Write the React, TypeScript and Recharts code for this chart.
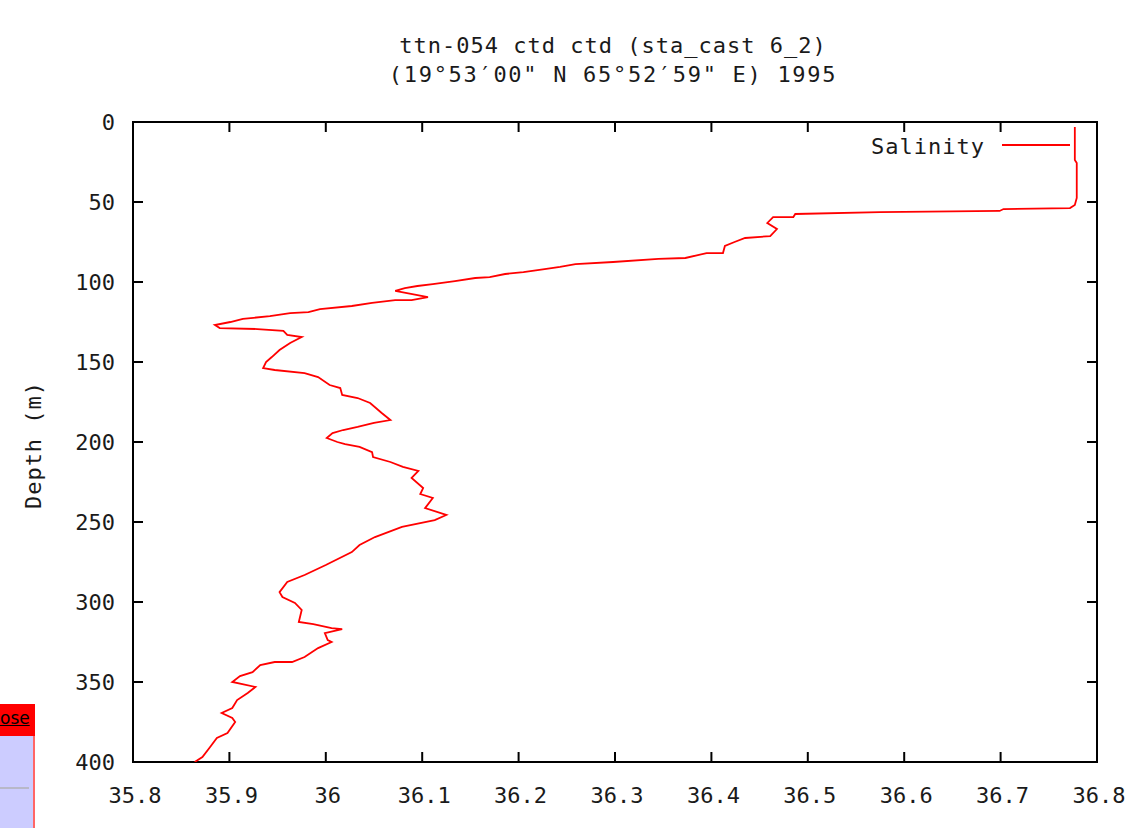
import { Line, LineChart, ReferenceArea, XAxis, YAxis } from 'recharts'

// CTD cast, salinity vs depth
const depth = [
  3.1, 23.8, 25.6, 47.5, 51.9, 53.8, 54.4, 55.6, 56.3, 57.5, 59.4, 59.4, 63.1, 66.9, 71.3, 72.5,
  75, 77.5, 81.9, 81.9, 85, 85.6, 87.5, 88.8, 90.6, 91.9, 93.8, 95, 96.9, 97.5, 99.4, 101.3,
  102.5, 103.8, 105.6, 109.4, 111.3, 111.3, 113.1, 115, 116.9, 118.8, 119.4, 121.3, 123.1, 125,
  126.9, 128.8, 129.4, 130.6, 133.1, 134.4, 138.1, 142.5, 146.9, 150, 153.8, 155, 156.9, 159.4,
  164.4, 166.3, 170.6, 172.5, 175.6, 181.9, 186.3, 188.1, 190.6, 192.5, 194.4, 197.5, 200, 201.3,
  203.1, 206.3, 209.4, 212.5, 215.6, 218.1, 222.5, 228.8, 232.5, 235, 241.3, 245.6, 248.8, 253.1,
  259.4, 264.4, 268.8, 276.9, 283.1, 287.5, 293.8, 296.9, 300.6, 305, 312.5, 313.8, 316.3, 316.9,
  319.4, 323.8, 325, 328.8, 334.4, 337.5, 337.5, 339.4, 343.8, 346.3, 350, 353.1, 356.9, 361.3,
  366.3, 369.4, 372.5, 375, 381.9, 385, 390.6, 396.9, 400,
]
const salinity = [
  36.777, 36.777, 36.779, 36.779, 36.777, 36.772, 36.703, 36.699, 36.575, 36.487, 36.485, 36.464,
  36.458, 36.468, 36.461, 36.435, 36.424, 36.414, 36.412, 36.395, 36.373, 36.345, 36.298, 36.259,
  36.243, 36.227, 36.205, 36.186, 36.17, 36.155, 36.134, 36.111, 36.095, 36.082, 36.072, 36.106,
  36.089, 36.072, 36.048, 36.027, 35.994, 35.982, 35.963, 35.942, 35.914, 35.901, 35.885, 35.89,
  35.929, 35.956, 35.96, 35.975, 35.963, 35.952, 35.944, 35.938, 35.935, 35.947, 35.978, 35.992,
  36.004, 36.015, 36.017, 36.033, 36.046, 36.058, 36.067, 36.05, 36.033, 36.018, 36.007, 36.001,
  36.012, 36.02, 36.035, 36.048, 36.049, 36.067, 36.08, 36.096, 36.089, 36.101, 36.098, 36.111,
  36.103, 36.125, 36.113, 36.079, 36.051, 36.035, 36.027, 36.0, 35.978, 35.96, 35.952, 35.955,
  35.968, 35.975, 35.972, 35.987, 36.006, 36.017, 35.999, 36.002, 36.006, 35.992, 35.978, 35.965,
  35.947, 35.932, 35.924, 35.911, 35.903, 35.927, 35.919, 35.908, 35.903, 35.892, 35.903, 35.906,
  35.898, 35.887, 35.88, 35.872, 35.864,
]
const xTicks = [35.8, 35.9, 36, 36.1, 36.2, 36.3, 36.4, 36.5, 36.6, 36.7, 36.8]
const yTicks = [0, 50, 100, 150, 200, 250, 300, 350, 400]
const titleLines = ['ttn-054 ctd ctd (sta_cast 6_2)', '(19°53′00" N 65°52′59" E) 1995']
const seriesName = 'Salinity'
const yLabel = 'Depth (m)'

const data = depth.map((d, i) => ({ depth: d, sal: salinity[i] }))

const W = 1136
const H = 828
const X_AXIS_H = 60
const Y_AXIS_W = 60
// plot area: left 133, right 1097, top 122, bottom 762
const M = { top: 122, right: 39, bottom: 66 - X_AXIS_H, left: 133 - Y_AXIS_W }
const PW = 964
const PH = 640
const FONT = '"DejaVu Sans Mono", monospace'
const INK = '#1a1a1a'
const RED = '#ff0000'

const fmt = (v: number) => String(Number(v.toFixed(1)))
const isEdge = (v: number, lo: number, hi: number) =>
  Math.abs(v - lo) < 1e-6 || Math.abs(v - hi) < 1e-6

// gnuplot style: ticks point inward, mirrored on the opposite side
function XTick({ x, y, payload }: any) {
  const v = payload.value
  const edge = isEdge(v, 35.8, 36.8)
  return (
    <g>
      {!edge && <line x1={x} x2={x} y1={y} y2={y - 10} stroke="#000" strokeWidth={2} />}
      {!edge && <line x1={x} x2={x} y1={y - PH} y2={y - PH + 10} stroke="#000" strokeWidth={2} />}
      <text x={x + 2} y={y + 41} textAnchor="middle" fontFamily={FONT} fontSize={22} fill={INK}>
        {fmt(v)}
      </text>
    </g>
  )
}

function YTick({ x, y, payload }: any) {
  const v = payload.value
  const edge = isEdge(v, 0, 400)
  return (
    <g>
      {!edge && <line x1={x} x2={x + 10} y1={y} y2={y} stroke="#000" strokeWidth={2} />}
      {!edge && <line x1={x + PW} x2={x + PW - 10} y1={y} y2={y} stroke="#000" strokeWidth={2} />}
      <text x={x - 18} y={y + 8} textAnchor="end" fontFamily={FONT} fontSize={22} fill={INK}>
        {v}
      </text>
    </g>
  )
}

export default function App() {
  return (
    <div style={{ position: 'absolute', left: 0, top: 0, width: W, height: H, background: '#fff' }}>
      <LineChart layout="vertical" width={W} height={H} data={data} margin={M}>
        <XAxis
          type="number"
          dataKey="sal"
          domain={[35.8, 36.8]}
          ticks={xTicks}
          height={X_AXIS_H}
          tickSize={0}
          tickMargin={0}
          axisLine={false}
          tickLine={false}
          tick={<XTick />}
          interval={0}
          allowDataOverflow
        />
        <YAxis
          type="number"
          dataKey="depth"
          domain={[0, 400]}
          ticks={yTicks}
          width={Y_AXIS_W}
          tickSize={0}
          tickMargin={0}
          axisLine={false}
          tickLine={false}
          tick={<YTick />}
          interval={0}
          allowDataOverflow
        />
        <ReferenceArea
          x1={35.8}
          x2={36.8}
          y1={0}
          y2={400}
          fill="none"
          fillOpacity={0}
          stroke="#000"
          strokeWidth={2}
          strokeOpacity={1}
        />
        <Line
          type="linear"
          dataKey="sal"
          name={seriesName}
          stroke={RED}
          strokeWidth={1.8}
          dot={false}
          isAnimationActive={false}
        />
      </LineChart>

      {titleLines.map((t, i) => (
        <div
          key={t}
          style={{
            position: 'absolute',
            left: 0,
            width: 1226,
            top: 33 + i * 29,
            textAlign: 'center',
            fontFamily: FONT,
            fontSize: 22,
            letterSpacing: i === 0 ? 1 : 1.7,
            color: INK,
            whiteSpace: 'pre',
          }}
        >
          {t}
        </div>
      ))}

      <div
        style={{
          position: 'absolute',
          left: 33,
          top: 445,
          transform: 'translate(-50%, -50%) rotate(-90deg)',
          fontFamily: FONT,
          fontSize: 22,
          letterSpacing: 1,
          color: INK,
          whiteSpace: 'nowrap',
        }}
      >
        {yLabel}
      </div>

      {/* legend */}
      <svg style={{ position: 'absolute', left: 860, top: 130 }} width={220} height={34}>
        <text x={125} y={24} textAnchor="end" fontFamily={FONT} fontSize={22} letterSpacing={1} fill={INK}>
          {seriesName}
        </text>
        <line x1={142} x2={210} y1={15} y2={15} stroke={RED} strokeWidth={1.8} />
      </svg>

      {/* browser popup leftover in the corner */}
      <div
        style={{
          position: 'absolute',
          left: 0,
          top: 704,
          width: 35,
          height: 32,
          background: '#ff0000',
        }}
      >
        <span
          style={{
            position: 'absolute',
            left: 0,
            top: 4,
            fontFamily: '"DejaVu Sans", sans-serif',
            fontSize: 17,
            textDecoration: 'underline',
            color: '#000',
            whiteSpace: 'nowrap',
          }}
        >
          ose
        </span>
      </div>
      <div
        style={{
          position: 'absolute',
          left: 0,
          top: 736,
          width: 33,
          height: 92,
          background: '#ccccff',
          borderRight: '2px solid #ff6666',
        }}
      >
        <div style={{ position: 'absolute', left: 0, top: 51, width: 29, height: 2, background: '#b8b8c8' }} />
      </div>
    </div>
  )
}
